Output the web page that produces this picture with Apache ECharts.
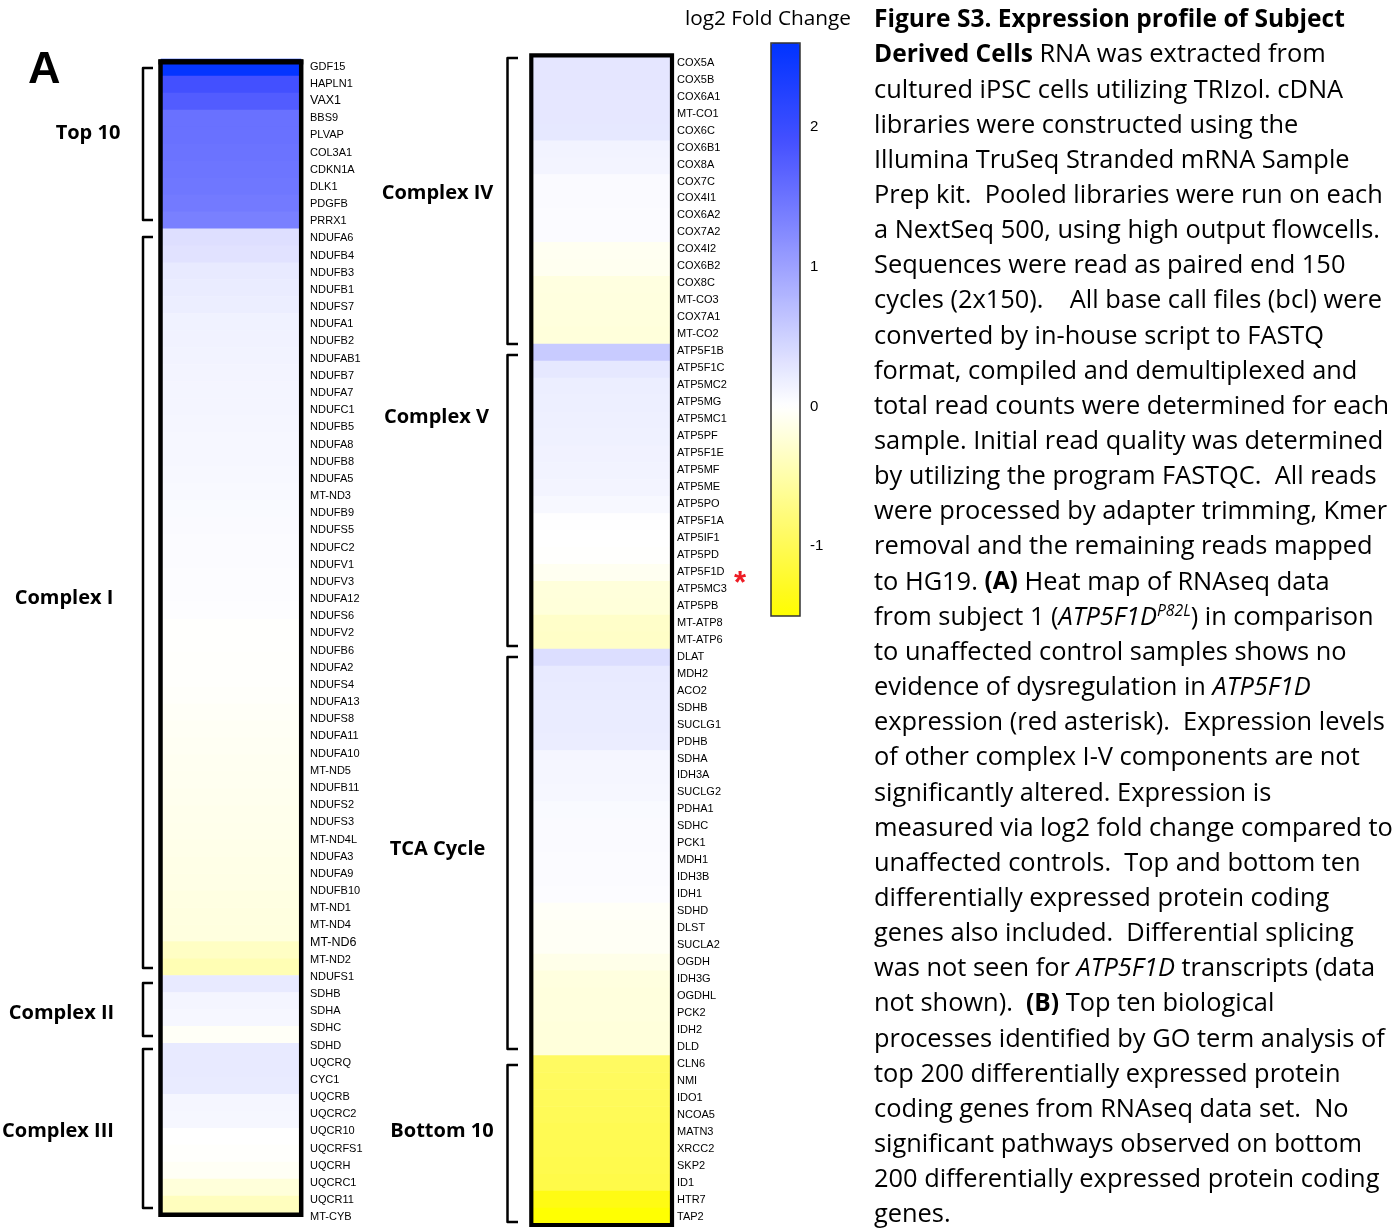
<!DOCTYPE html>
<html>
<head>
<meta charset="utf-8">
<script src="https://cdn.jsdelivr.net/npm/echarts@6/dist/echarts.min.js"></script>
<style>
  html, body { margin: 0; padding: 0; background: #fff; }
  #chart { width: 1397px; height: 1230px; }
</style>
</head>
<body>
<div id="chart"></div>
<script>
// ---- log2 fold change per gene, grouped as in the figure ----
const top10Genes = ['GDF15','HAPLN1','VAX1','BBS9','PLVAP','COL3A1','CDKN1A','DLK1','PDGFB','PRRX1'];
const top10Values = [2.56,1.91,1.76,1.52,1.52,1.50,1.48,1.46,1.42,1.36];

const complex1Genes = ['NDUFA6','NDUFB4','NDUFB3','NDUFB1','NDUFS7','NDUFA1','NDUFB2','NDUFAB1','NDUFB7','NDUFA7',
  'NDUFC1','NDUFB5','NDUFA8','NDUFB8','NDUFA5','MT-ND3','NDUFB9','NDUFS5','NDUFC2','NDUFV1',
  'NDUFV3','NDUFA12','NDUFS6','NDUFV2','NDUFB6','NDUFA2','NDUFS4','NDUFA13','NDUFS8','NDUFA11',
  'NDUFA10','MT-ND5','NDUFB11','NDUFS2','NDUFS3','MT-ND4L','NDUFA3','NDUFA9','NDUFB10','MT-ND1',
  'MT-ND4','MT-ND6','MT-ND2','NDUFS1'];
const complex1Values = [0.34,0.31,0.23,0.21,0.19,0.15,0.14,0.13,0.12,0.11,
  0.11,0.10,0.09,0.09,0.08,0.07,0.06,0.05,0.04,0.04,
  0.03,0.03,0.02,-0.01,-0.01,-0.02,-0.02,-0.03,-0.05,-0.06,
  -0.07,-0.08,-0.09,-0.10,-0.11,-0.12,-0.13,-0.14,-0.15,-0.17,
  -0.18,-0.19,-0.35,-0.44];

const complex2Genes = ['SDHB','SDHA','SDHC','SDHD'];
const complex2Values = [0.23,0.11,0.09,-0.05];

const complex3Genes = ['UQCRQ','CYC1','UQCRB','UQCRC2','UQCR10','UQCRFS1','UQCRH','UQCRC1','UQCR11','MT-CYB'];
const complex3Values = [0.23,0.23,0.22,0.10,0.09,0.00,-0.02,-0.06,-0.22,-0.38];

const complex4Genes = ['COX5A','COX5B','COX6A1','MT-CO1','COX6C','COX6B1','COX8A','COX7C','COX4I1','COX6A2',
  'COX7A2','COX4I2','COX6B2','COX8C','MT-CO3','COX7A1','MT-CO2'];
const complex4Values = [0.27,0.27,0.26,0.26,0.25,0.13,0.12,0.05,0.05,0.04,
  0.04,-0.08,-0.09,-0.18,-0.19,-0.20,-0.21];

const complex5Genes = ['ATP5F1B','ATP5F1C','ATP5MC2','ATP5MG','ATP5MC1','ATP5PF','ATP5F1E','ATP5MF','ATP5ME','ATP5PO',
  'ATP5F1A','ATP5IF1','ATP5PD','ATP5F1D','ATP5MC3','ATP5PB','MT-ATP8','MT-ATP6'];
const complex5Values = [0.56,0.25,0.19,0.18,0.17,0.16,0.14,0.13,0.12,0.08,
  0.01,0.00,-0.01,-0.08,-0.21,-0.22,-0.32,-0.33];

const tcaGenes = ['DLAT','MDH2','ACO2','SDHB','SUCLG1','PDHB','SDHA','IDH3A','SUCLG2','PDHA1',
  'SDHC','PCK1','MDH1','IDH3B','IDH1','SDHD','DLST','SUCLA2','OGDH','IDH3G',
  'OGDHL','PCK2','IDH2','DLD'];
const tcaValues = [0.36,0.23,0.22,0.21,0.21,0.20,0.10,0.10,0.09,0.06,
  0.05,0.05,0.04,0.04,0.03,-0.05,-0.06,-0.06,-0.13,-0.19,
  -0.20,-0.20,-0.21,-0.21];

const bottom10Genes = ['CLN6','NMI','IDO1','NCOA5','MATN3','XRCC2','SKP2','ID1','HTR7','TAP2'];
const bottom10Values = [-0.93,-0.95,-0.97,-0.99,-1.01,-1.03,-1.05,-1.07,-1.38,-1.49];

// colour scale range and its tick labels
const scaleMin = -1.5, scaleMax = 2.6;
const scaleTicks = [-1, 0, 1, 2];

// ---- assemble the two heat-map columns ----
const leftGenes = [].concat(top10Genes, complex1Genes, complex2Genes, complex3Genes);
const leftValues = [].concat(top10Values, complex1Values, complex2Values, complex3Values);
const rightGenes = [].concat(complex4Genes, complex5Genes, tcaGenes, bottom10Genes);
const rightValues = [].concat(complex4Values, complex5Values, tcaValues, bottom10Values);

const leftData = leftValues.map((v, i) => [0, i, v]);
const rightData = rightValues.map((v, i) => [0, i, v]);

// diverging colour ramp: yellow (negative) -> white (0) -> blue (positive)
const blueAnchors = [
  [0, [255, 255, 255]], [0.13, [222, 224, 255]], [0.52, [122, 128, 255]],
  [0.73, [68, 80, 255]], [1, [0, 51, 255]]
];
const yellowAnchors = [
  [0, [255, 255, 255]], [0.3, [255, 254, 179]], [0.62, [255, 250, 97]],
  [0.92, [255, 250, 20]], [1, [255, 255, 0]]
];
function lerpAnchors(anchors, t) {
  t = Math.max(0, Math.min(1, t));
  for (let k = 1; k < anchors.length; k++) {
    if (t <= anchors[k][0]) {
      const a = anchors[k - 1], b = anchors[k];
      const f = (t - a[0]) / (b[0] - a[0]);
      const c = a[1].map((ch, j) => Math.round(ch + (b[1][j] - ch) * f));
      return 'rgb(' + c.join(',') + ')';
    }
  }
  return 'rgb(' + anchors[anchors.length - 1][1].join(',') + ')';
}
function rampColor(v) {
  return v >= 0 ? lerpAnchors(blueAnchors, v / scaleMax) : lerpAnchors(yellowAnchors, v / scaleMin);
}
const rampStops = [];
for (let k = 0; k <= 41; k++) rampStops.push(rampColor(scaleMin + k * 0.1));

// font sizes fitted to text widths
const measureCtx = document.createElement('canvas').getContext('2d');
function fitSize(text, weight, family, target) {
  measureCtx.font = weight + ' 100px ' + family;
  return 100 * target / measureCtx.measureText(text).width;
}
const bodyFamily = '"Open Sans"';
const bodySize = fitSize('measured via log2 fold change compared to', 'normal', bodyFamily, 519);
const boldSize = fitSize('Figure S3. Expression profile of Subject', 'bold', bodyFamily, 471);
const groupSize = fitSize('Complex III', 'bold', bodyFamily, 112);
const titleSize = fitSize('log2 Fold Change', 'normal', bodyFamily, 166);

const labelFamily = '"Liberation Sans", Arial, sans-serif';
const bigLabels = ['VAX1', 'MT-ND6'];

function geneLabel(v) {
  return bigLabels.indexOf(v) >= 0 ? '{big|' + v + '}' : v;
}

// ---- caption text (rich markup per line) ----
const captionLines = [
  '{b|Figure S3. Expression profile of Subject}',
  '{b|Derived Cells} RNA was extracted from',
  'cultured iPSC cells utilizing TRIzol. cDNA',
  'libraries were constructed using the',
  'Illumina TruSeq Stranded mRNA Sample',
  'Prep kit.  Pooled libraries were run on each',
  'a NextSeq 500, using high output flowcells.',
  'Sequences were read as paired end 150',
  'cycles (2x150).    All base call files (bcl) were',
  'converted by in-house script to FASTQ',
  'format, compiled and demultiplexed and',
  'total read counts were determined for each',
  'sample. Initial read quality was determined',
  'by utilizing the program FASTQC.  All reads',
  'were processed by adapter trimming, Kmer',
  'removal and the remaining reads mapped',
  'to HG19. {b|(A)} Heat map of RNAseq data',
  'from subject 1 ({i|ATP5F1D}{sup|P82L}) in comparison',
  'to unaffected control samples shows no',
  'evidence of dysregulation in {i|ATP5F1D}',
  'expression (red asterisk).  Expression levels',
  'of other complex I-V components are not',
  'significantly altered. Expression is',
  'measured via log2 fold change compared to',
  'unaffected controls.  Top and bottom ten',
  'differentially expressed protein coding',
  'genes also included.  Differential splicing',
  'was not seen for {i|ATP5F1D} transcripts (data',
  'not shown).  {b|(B)} Top ten biological',
  'processes identified by GO term analysis of',
  'top 200 differentially expressed protein',
  'coding genes from RNAseq data set.  No',
  'significant pathways observed on bottom',
  '200 differentially expressed protein coding',
  'genes.'
];

const captionRich = {
  b: { fontFamily: bodyFamily, fontSize: boldSize, fontWeight: 'bold', lineHeight: 28, fill: '#000' },
  i: { fontFamily: bodyFamily, fontSize: bodySize, fontStyle: 'italic', lineHeight: 28, fill: '#000' },
  sup: { fontFamily: bodyFamily, fontSize: bodySize * 0.62, fontStyle: 'italic', lineHeight: 14,
         verticalAlign: 'top', fill: '#000' }
};

const graphics = [];

captionLines.forEach((line, k) => {
  graphics.push({
    type: 'text', x: 874, y: 20 + k * 35.15,
    style: {
      text: line, fontFamily: bodyFamily, fontSize: bodySize, lineHeight: 28,
      fill: '#000', align: 'left', verticalAlign: 'middle', rich: captionRich
    }
  });
});

// group names beside the brackets
const groupLabels = [
  { text: 'Top 10', x: 88, y: 133 },
  { text: 'Complex I', x: 64, y: 598 },
  { text: 'Complex II', x: 61.5, y: 1013 },
  { text: 'Complex III', x: 58, y: 1131 },
  { text: 'Complex IV', x: 437.5, y: 193 },
  { text: 'Complex V', x: 436.5, y: 417 },
  { text: 'TCA Cycle', x: 437.5, y: 849 },
  { text: 'Bottom 10', x: 442, y: 1131 }
];
groupLabels.forEach(g => {
  graphics.push({
    type: 'text', x: g.x, y: g.y,
    style: { text: g.text, fontFamily: bodyFamily, fontSize: groupSize, fontWeight: 'bold',
             fill: '#000', align: 'center', verticalAlign: 'middle' }
  });
});

// brackets: [vertical x, tick end x, top y, bottom y]
const brackets = [
  [143, 153, 68, 220], [143, 153, 237, 968], [143, 153, 983, 1036], [143, 153, 1049, 1208],
  [507.5, 518, 58, 344], [507.5, 518, 355, 646], [507.5, 518, 657, 1049], [507.5, 518, 1065, 1222]
];
brackets.forEach(b => {
  graphics.push({
    type: 'polyline', z: 50,
    shape: { points: [[b[1], b[2]], [b[0], b[2]], [b[0], b[3]], [b[1], b[3]]] },
    style: { stroke: '#000', lineWidth: 2.5, fill: null, lineJoin: 'round' }
  });
});

// heavy frames around the two heat-map columns
graphics.push({
  type: 'rect', z: 60,
  shape: { x: 160.5, y: 61.5, width: 140.7, height: 1153.2 },
  style: { stroke: '#000', lineWidth: 4.5, fill: null }
});
graphics.push({
  type: 'line', z: 61,
  shape: { x1: 158.5, y1: 62, x2: 303.3, y2: 62 },
  style: { stroke: '#000', lineWidth: 5 }
});
graphics.push({
  type: 'rect', z: 60,
  shape: { x: 531.3, y: 55.3, width: 140.7, height: 1169.7 },
  style: { stroke: '#000', lineWidth: 4.2, fill: null }
});

// colour bar frame and title
graphics.push({
  type: 'rect', z: 60,
  shape: { x: 771, y: 43, width: 29, height: 573 },
  style: { stroke: '#333', lineWidth: 1.5, fill: null }
});
graphics.push({
  type: 'text', x: 768, y: 19,
  style: { text: 'log2 Fold Change', fontFamily: bodyFamily, fontSize: titleSize,
           fill: '#000', align: 'center', verticalAlign: 'middle' }
});

// panel letter
graphics.push({
  type: 'text', x: 28, y: 71,
  style: { text: 'A', fontFamily: labelFamily, fontSize: 45, fontWeight: 'bold',
           fill: '#000', align: 'left', verticalAlign: 'middle' }
});

// asterisk next to ATP5F1D
graphics.push({
  type: 'text', x: 740, y: 584, z: 70,
  style: { text: '*', fontFamily: labelFamily, fontSize: 31, fontWeight: 'bold',
           fill: '#ee1c24', align: 'center', verticalAlign: 'middle' }
});

const hiddenCat = { type: 'category', data: ['log2FC'], show: false };

const labelAxis = (gridIndex, genes, margin) => ({
  type: 'category', gridIndex: gridIndex, data: genes, inverse: true, position: 'right',
  axisLine: { show: false }, axisTick: { show: false }, splitLine: { show: false },
  axisLabel: {
    interval: 0, margin: margin, fontFamily: labelFamily, fontSize: 11, color: '#000',
    formatter: geneLabel,
    rich: { big: { fontFamily: labelFamily, fontSize: 12.5, color: '#000' } }
  }
});

const option = {
  animation: false,
  backgroundColor: '#fff',
  grid: [
    { left: 161, top: 59, width: 140, height: 1154 },     // left heat-map column
    { left: 531, top: 56, width: 141, height: 1169 },     // right heat-map column
    { left: 161, top: 58.1, width: 140, height: 1167.8 }, // left gene names
    { left: 531, top: 54.2, width: 141, height: 1171 },   // right gene names
    { left: 771, top: 43, width: 29, height: 573 }        // colour bar ticks
  ],
  xAxis: [
    Object.assign({ gridIndex: 0 }, hiddenCat),
    Object.assign({ gridIndex: 1 }, hiddenCat),
    Object.assign({ gridIndex: 2 }, hiddenCat),
    Object.assign({ gridIndex: 3 }, hiddenCat),
    { type: 'value', gridIndex: 4, show: false, min: 0, max: 1 }
  ],
  yAxis: [
    { type: 'category', gridIndex: 0, data: leftGenes, inverse: true, show: false },
    { type: 'category', gridIndex: 1, data: rightGenes, inverse: true, show: false },
    labelAxis(2, leftGenes, 9),
    labelAxis(3, rightGenes, 5),
    {
      type: 'value', gridIndex: 4, min: scaleMin, max: scaleMax, position: 'left',
      axisLine: { show: false }, splitLine: { show: false },
      axisTick: { show: true, inside: true, length: 5, customValues: scaleTicks,
                  lineStyle: { color: '#111', width: 1.5 } },
      axisLabel: { show: false }
    },
    {
      type: 'value', gridIndex: 4, min: scaleMin, max: scaleMax, position: 'right',
      axisLine: { show: false }, splitLine: { show: false },
      axisTick: { show: true, inside: true, length: 5, customValues: scaleTicks,
                  lineStyle: { color: '#111', width: 1.5 } },
      axisLabel: { show: true, inside: false, margin: 10, customValues: scaleTicks,
                   fontFamily: labelFamily, fontSize: 15, color: '#000' }
    }
  ],
  visualMap: {
    type: 'continuous', min: scaleMin, max: scaleMax, seriesIndex: [0, 1], dimension: 2,
    calculable: false, hoverLink: false, orient: 'vertical',
    left: 771, top: 43, itemWidth: 29, itemHeight: 573, padding: 0, text: null,
    inRange: { color: rampStops }
  },
  series: [
    {
      type: 'heatmap', xAxisIndex: 0, yAxisIndex: 0, data: leftData,
      itemStyle: { borderWidth: 0 }, emphasis: { disabled: true }, silent: true
    },
    {
      type: 'heatmap', xAxisIndex: 1, yAxisIndex: 1, data: rightData,
      itemStyle: { borderWidth: 0 }, emphasis: { disabled: true }, silent: true
    }
  ],
  graphic: graphics
};

const chart = echarts.init(document.getElementById('chart'), null, { renderer: 'canvas' });
chart.setOption(option);
</script>
</body>
</html>
